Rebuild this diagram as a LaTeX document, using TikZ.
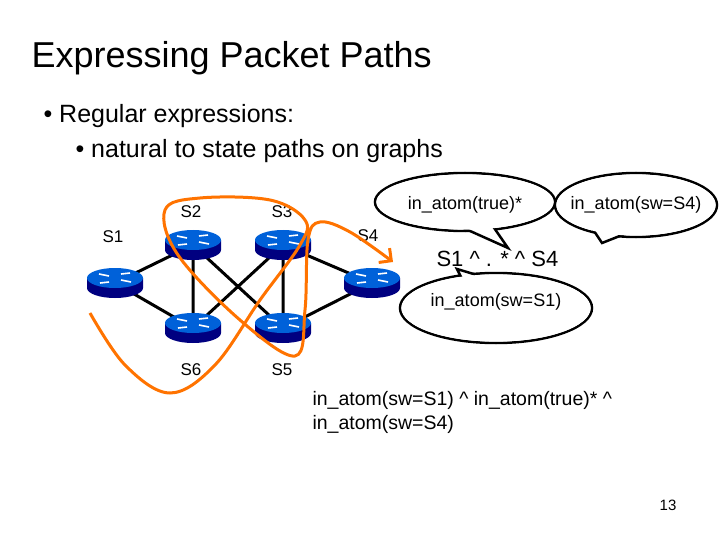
\documentclass[tikz,border=0pt]{standalone}
\usepackage{fontspec}
\setmainfont{Liberation Sans}
\usetikzlibrary{arrows.meta}
\begin{document}
\begin{tikzpicture}[x=1pt,y=-1pt,
  lbl/.style={font=\fontsize{17}{19}\selectfont},
  link/.style={line width=3pt},
  bubble/.style={line width=2.5pt,fill=white},
  btxt/.style={font=\fontsize{18}{20}\selectfont}]
\useasboundingbox (0,0) rectangle (720,540);
% routers
\tikzset{router/.pic={
  \fill[blue!50!black] (-28,-5) -- (-28,5) arc[start angle=180,end angle=0,x radius=28,y radius=10] -- (28,-5) -- cycle;
  \fill[blue!55!cyan!85!black] (0,-5) ellipse[x radius=28,y radius=10];
  \draw[white,line width=1.6pt] (-16,-9)--(-6,-7) (16,-1)--(6,-3) (-6,-1)--(-15,0) (6,-9)--(15,-10);
}}
\foreach \n/\x/\y in {s1/115/283,s2/193/245,s3/283/245,s4/372/283,s6/193/328,s5/283/328}
  \coordinate (\n) at (\x,\y);
\draw[link] (s1)--(s2) (s1)--(s6) (s2)--(s6) (s2)--(s5) (s3)--(s6) (s3)--(s5) (s3)--(s4) (s5)--(s4);
\foreach \n in {s1,s2,s3,s4,s6,s5} \pic at (\n) {router};
\node[lbl] (l1) at (113,237) {S1};
\node[lbl] (l2) at (191,212) {S2};
\node[lbl] (l3) at (282,212) {S3};
\node[lbl] (l4) at (368,236) {S4};
\node[lbl] (l6) at (191,370) {S6};
\node[lbl] (l5) at (282,370) {S5};
% texts
\node[anchor=west,font=\fontsize{36}{40}\selectfont] (title) at (28,58) {Expressing Packet Paths};
\node[anchor=west,font=\fontsize{25}{28}\selectfont] (b1) at (40,116) {\textbullet\ Regular expressions:};
\node[anchor=west,font=\fontsize{25}{28}\selectfont] (b2) at (72,151) {\textbullet\ natural to state paths on graphs};
\node[anchor=west,font=\fontsize{22}{26}\selectfont] (re) at (433,259) {S1 \^{} . * \^{} S4};
\node[anchor=west,font=\fontsize{19.5}{24}\selectfont,align=left] (full) at (309,412) {in\_atom(sw=S1) \^{} in\_atom(true)* \^{}\\in\_atom(sw=S4)};
\node[font=\fontsize{15}{17}\selectfont\rmfamily] (pg) at (668,505) {13};
% bubbles
\draw[bubble] (465,202) ellipse[x radius=90,y radius=29];
\draw[bubble,line join=miter] (450,222)--(508,248)--(490,222);
\fill[white] (465,202) ellipse[x radius=88.6,y radius=27.6];
\node[btxt] (t1) at (465,205) {in\_atom(true)*};
\draw[bubble] (636,205) ellipse[x radius=81,y radius=32];
\draw[bubble,line join=miter] (590,225)--(602,243)--(640,228);
\fill[white] (636,205) ellipse[x radius=79.6,y radius=30.6];
\node[btxt] (t2) at (636,205) {in\_atom(sw=S4)};
\draw[bubble] (496,308) ellipse[x radius=96,y radius=35];
\draw[bubble,line join=miter] (465,285)--(457,269)--(510,285);
\fill[white] (496,308) ellipse[x radius=94.6,y radius=33.6];
\node[btxt] (t3) at (496,302) {in\_atom(sw=S1)};
% path
\draw[orange!90!red,line width=3pt,-{Straight Barb[length=9pt,width=18pt]}]
  plot[smooth,tension=0.6] coordinates {(90,313) (125,365) (170,393) (215,365) (260,300) (300,245) (305,220) (270,200) (200,198) (165,210) (178,255) (240,320) (295,356) (305,310) (308,240) (320,222) (350,232) (393,262)};
\end{tikzpicture}
\end{document}
